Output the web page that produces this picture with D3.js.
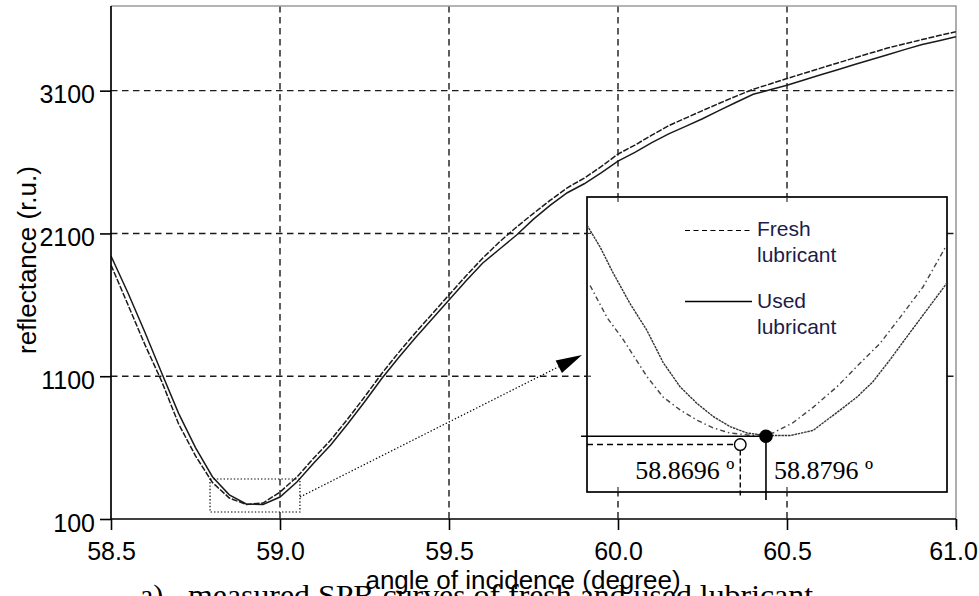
<!DOCTYPE html>
<html><head><meta charset="utf-8">
<script src="https://cdn.jsdelivr.net/npm/d3@7"></script>
<style>body{margin:0;background:#fff}svg{display:block;background:#fff}</style>
</head><body>
<svg id="chart" width="979" height="596"></svg>
<script>
// ---------- data ----------
const angle = [58.50,58.55,58.60,58.65,58.70,58.75,58.80,58.85,58.90,58.95,
               59.00,59.05,59.10,59.15,59.20,59.25,59.30,59.35,59.40,59.45,
               59.50,59.55,59.60,59.65,59.70,59.75,59.80,59.85,59.90,59.95,
               60.00,60.05,60.10,60.15,60.20,60.25,60.30,60.35,60.40,60.45,
               60.50,60.55,60.60,60.65,60.70,60.75,60.80,60.85,60.90,60.95,61.00];
const usedRefl = [1942,1685,1410,1123,840,600,396,269,205,202,
                  254,359,492,618,765,919,1081,1228,1368,1501,
                  1634,1767,1893,1991,2089,2200,2298,2385,2448,2525,
                  2607,2668,2736,2797,2850,2903,2962,3019,3075,3106,
                  3138,3175,3211,3247,3283,3318,3353,3389,3423,3450,3478];
const freshRefl = [1879,1602,1323,1064,766,542,356,247,202,212,
                   289,394,527,653,800,954,1116,1263,1403,1536,
                   1669,1802,1928,2042,2145,2241,2333,2420,2487,2568,
                   2656,2719,2788,2855,2908,2960,3012,3062,3110,3147,
                   3185,3222,3258,3294,3330,3365,3400,3429,3458,3486,3513];

const xTicks = [58.5,59.0,59.5,60.0,60.5,61.0];
const yTicks = [100,1100,2100,3100];
const xGrid = [59.0,59.5,60.0,60.5];
const yGrid = [1100,2100,3100];

// zoomed region (dotted box) in data units
const zoomAngle = [58.793, 59.059];
const zoomRefl = [149, 380];

// inset (magnified minimum)
const insetUsedAngle = [58.8100,58.8151,58.8201,58.8267,58.8333,58.8396,58.8462,58.8528,58.8590,58.8656,
                        58.8722,58.8800,58.8890,58.8979,58.9072,58.9150,58.9212,58.9278,58.9344,58.9422,58.9500];
const insetUsed = [358,341,321,297,276,251,232,219,209,201,196,194,194,198,212,224,236,253,271,292,313];
const insetFreshAngle = [58.8112,58.8178,58.8240,58.8333,58.8396,58.8462,58.8528,58.8590,58.8656,58.8746,
                         58.8823,58.8901,58.8979,58.9072,58.9150,58.9240,58.9317,58.9407,58.9500];
const insetFresh = [311,286,269,240,224,214,206,200,196,194,196,204,216,232,248,266,286,310,343];
const freshMin = {angle:58.8696, refl:187};
const usedMin = {angle:58.8796, refl:193.5};
const minLabels = ["58.8696 º", "58.8796 º"];
const legendLabels = [["Fresh","lubricant"],["Used","lubricant"]];

const xTitle = "angle of incidence (degree)";
const yTitle = "reflectance (r.u.)";
const captionA = "a)";
const captionText = "measured SPR curves of fresh and used lubricant";

// ---------- drawing ----------
const SANS = "'Liberation Sans', Arial, sans-serif";
const SERIF = "'Liberation Serif', 'Times New Roman', serif";
const svg = d3.select("#chart");
const x = d3.scaleLinear().domain([58.5, 61.0]).range([111, 956]);
const y = d3.scaleLinear().domain([100, 3693]).range([519, 6]);

// grid
const grid = svg.append("g").attr("stroke", "#1a1a1a").attr("stroke-width", 1.4)
  .attr("stroke-dasharray", "6.5,4.5");
grid.selectAll(".vg").data(xGrid).join("line")
  .attr("x1", d => x(d)).attr("x2", d => x(d)).attr("y1", y.range()[1]).attr("y2", y.range()[0]);
grid.selectAll(".hg").data(yGrid).join("line")
  .attr("y1", d => y(d)).attr("y2", d => y(d)).attr("x1", x.range()[0]).attr("x2", x.range()[1]);

// frame top/right (grey)
svg.append("path")
  .attr("d", `M${x.range()[0]},${y.range()[1]}H${x.range()[1]}V${y.range()[0]+8}`)
  .attr("fill", "none").attr("stroke", "#9a9a9a").attr("stroke-width", 1.6);

// clip
svg.append("clipPath").attr("id", "plotclip").append("rect")
  .attr("x", x.range()[0]).attr("y", y.range()[1])
  .attr("width", x.range()[1] - x.range()[0]).attr("height", y.range()[0] - y.range()[1]);

const line = d3.line().x((d, i) => x(angle[i])).y(d => y(d));
const curves = svg.append("g").attr("clip-path", "url(#plotclip)").attr("fill", "none");
curves.append("path").attr("d", line(freshRefl))
  .attr("stroke", "#1a1a1a").attr("stroke-width", 1.5).attr("stroke-dasharray", "6,1.6");
curves.append("path").attr("d", line(usedRefl))
  .attr("stroke", "#1a1a1a").attr("stroke-width", 1.5);

// axes
const xAxis = d3.axisBottom(x).tickValues(xTicks).tickFormat(d3.format(".1f"))
  .tickSize(11).tickPadding(12);
const gx = svg.append("g").attr("transform", `translate(0,${y.range()[0]})`).call(xAxis);
const yAxis = d3.axisLeft(y).tickValues(yTicks).tickFormat(d3.format("d"))
  .tickSize(11).tickPadding(5);
const gy = svg.append("g").attr("transform", `translate(${x.range()[0]},0)`).call(yAxis);
[gx, gy].forEach(g => {
  g.select(".domain").attr("stroke", "#000").attr("stroke-width", 1.7);
  g.selectAll(".tick line").attr("stroke", "#000").attr("stroke-width", 1.6);
  g.selectAll(".tick text").attr("font-family", SANS).attr("font-size", 25).attr("fill", "#000");
});
gy.selectAll(".tick text").attr("dy", "0.48em");
gx.selectAll(".tick text").filter(d => d === xTicks[xTicks.length - 1]).attr("dx", -3);
gx.select(".domain").attr("d", `M${x.range()[0]},0H${x.range()[1]}`);
gy.select(".domain").attr("d", `M0,${y.range()[0]}V${y.range()[1]}`);

// dotted zoom box + connector
svg.append("rect")
  .attr("x", x(zoomAngle[0])).attr("y", y(zoomRefl[1]))
  .attr("width", x(zoomAngle[1]) - x(zoomAngle[0])).attr("height", y(zoomRefl[0]) - y(zoomRefl[1]))
  .attr("fill", "none").attr("stroke", "#000").attr("stroke-width", 1.2).attr("stroke-dasharray", "1.4,2");

// inset layout
const inset = {x0: 587, x1: 947, y0: 197, y1: 492};
const ix = d3.scaleLinear().domain([58.81, 58.95]).range([inset.x0, inset.x1]);
const iy = d3.scaleLinear().domain([150, 380]).range([inset.y1, inset.y0]);

const startX = x(zoomAngle[1]), startY = y(254);
const tipX = inset.x0 - 5, tipY = 355;
const dx = tipX - startX, dy = tipY - startY, L = Math.hypot(dx, dy);
const ux = dx / L, uy = dy / L;
const baseX = tipX - ux * 26, baseY = tipY - uy * 26;
svg.append("line").attr("x1", startX).attr("y1", startY).attr("x2", baseX).attr("y2", baseY)
  .attr("stroke", "#000").attr("stroke-width", 1.2).attr("stroke-dasharray", "1.4,2");
svg.append("path")
  .attr("d", `M${tipX},${tipY}L${baseX - uy * 7},${baseY + ux * 7}L${baseX + uy * 7},${baseY - ux * 7}Z`)
  .attr("fill", "#000");

// inset box
const g = svg.append("g");
g.append("rect").attr("x", inset.x0).attr("y", inset.y0)
  .attr("width", inset.x1 - inset.x0).attr("height", inset.y1 - inset.y0)
  .attr("fill", "#fff").attr("stroke", "#000").attr("stroke-width", 1.7);
// small tick remnants of grid at the inset edges
[60.0, 60.5].forEach(v => {
  g.append("line").attr("x1", x(v)).attr("x2", x(v)).attr("y1", inset.y0).attr("y2", inset.y0 + 5)
    .attr("stroke", "#333").attr("stroke-width", 1.2);
  g.append("line").attr("x1", x(v)).attr("x2", x(v)).attr("y1", inset.y1 - 5).attr("y2", inset.y1)
    .attr("stroke", "#333").attr("stroke-width", 1.2);
});
[2100, 1100].forEach(v => {
  g.append("line").attr("x1", inset.x0).attr("x2", inset.x0 + 4).attr("y1", y(v)).attr("y2", y(v))
    .attr("stroke", "#333").attr("stroke-width", 1.2);
});

g.append("clipPath").attr("id", "insetclip").append("rect")
  .attr("x", inset.x0).attr("y", inset.y0).attr("width", inset.x1 - inset.x0).attr("height", inset.y1 - inset.y0);
const ig = g.append("g").attr("clip-path", "url(#insetclip)").attr("fill", "none");
const iUsedLine = d3.line().x((d, i) => ix(insetUsedAngle[i])).y(d => iy(d));
const iFreshLine = d3.line().x((d, i) => ix(insetFreshAngle[i])).y(d => iy(d));
ig.append("path").attr("d", iFreshLine(insetFresh))
  .attr("stroke", "#444").attr("stroke-width", 1.4).attr("stroke-dasharray", "5,3,1.5,3");
ig.append("path").attr("d", iUsedLine(insetUsed))
  .attr("stroke", "#333").attr("stroke-width", 1.4).attr("stroke-dasharray", "2.5,0.8");

// legend
const legTextX = 757;
g.append("line").attr("x1", 685).attr("x2", 750).attr("y1", 230.5).attr("y2", 230.5)
  .attr("stroke", "#000").attr("stroke-width", 1.2).attr("stroke-dasharray", "5,3.5");
g.append("line").attr("x1", 685).attr("x2", 752).attr("y1", 301.5).attr("y2", 301.5)
  .attr("stroke", "#000").attr("stroke-width", 1.3);
const legBase = [[236, 262], [308, 334]];
legendLabels.forEach((lab, k) => {
  lab.forEach((t, j) => {
    g.append("text").attr("x", legTextX).attr("y", legBase[k][j]).text(t)
      .attr("font-family", SANS).attr("font-size", 21).attr("fill", "#1c1c4a");
  });
});

// minimum markers
g.append("line").attr("x1", inset.x0 - 6).attr("x2", ix(usedMin.angle))
  .attr("y1", iy(usedMin.refl)).attr("y2", iy(usedMin.refl))
  .attr("stroke", "#000").attr("stroke-width", 1.5);
g.append("line").attr("x1", inset.x0).attr("x2", ix(freshMin.angle) - 6)
  .attr("y1", iy(freshMin.refl)).attr("y2", iy(freshMin.refl))
  .attr("stroke", "#000").attr("stroke-width", 1.4).attr("stroke-dasharray", "6,4");
g.append("line").attr("x1", ix(freshMin.angle)).attr("x2", ix(freshMin.angle))
  .attr("y1", iy(freshMin.refl) + 6).attr("y2", inset.y1 + 5)
  .attr("stroke", "#000").attr("stroke-width", 1.4).attr("stroke-dasharray", "5,3");
g.append("line").attr("x1", ix(usedMin.angle)).attr("x2", ix(usedMin.angle))
  .attr("y1", iy(usedMin.refl)).attr("y2", inset.y1 + 8)
  .attr("stroke", "#000").attr("stroke-width", 1.6);
g.append("circle").attr("cx", ix(freshMin.angle)).attr("cy", iy(freshMin.refl)).attr("r", 5.8)
  .attr("fill", "#fff").attr("stroke", "#000").attr("stroke-width", 1.4);
g.append("circle").attr("cx", ix(usedMin.angle)).attr("cy", iy(usedMin.refl)).attr("r", 6.8)
  .attr("fill", "#000");
g.append("text").attr("x", ix(freshMin.angle) - 6).attr("y", 479).attr("text-anchor", "end")
  .text(minLabels[0]).attr("font-family", SERIF).attr("font-size", 26).attr("fill", "#000");
g.append("text").attr("x", ix(usedMin.angle) + 8).attr("y", 479)
  .text(minLabels[1]).attr("font-family", SERIF).attr("font-size", 26).attr("fill", "#000");

// axis titles
svg.append("text").attr("x", 523).attr("y", 589).attr("text-anchor", "middle")
  .text(xTitle).attr("font-family", SANS).attr("font-size", 26).attr("fill", "#000");
svg.append("text").attr("transform", "translate(36,260) rotate(-90)").attr("text-anchor", "middle")
  .text(yTitle).attr("font-family", SANS).attr("font-size", 26).attr("fill", "#000");

// caption (cut off at bottom like the original)
svg.append("text").attr("x", 140).attr("y", 605).text(captionA)
  .attr("font-family", SERIF).attr("font-size", 30).attr("fill", "#000");
svg.append("text").attr("x", 188).attr("y", 605).text(captionText)
  .attr("textLength", 625).attr("lengthAdjust", "spacingAndGlyphs")
  .attr("font-family", SERIF).attr("font-size", 30).attr("fill", "#000");
</script>
</body></html>
